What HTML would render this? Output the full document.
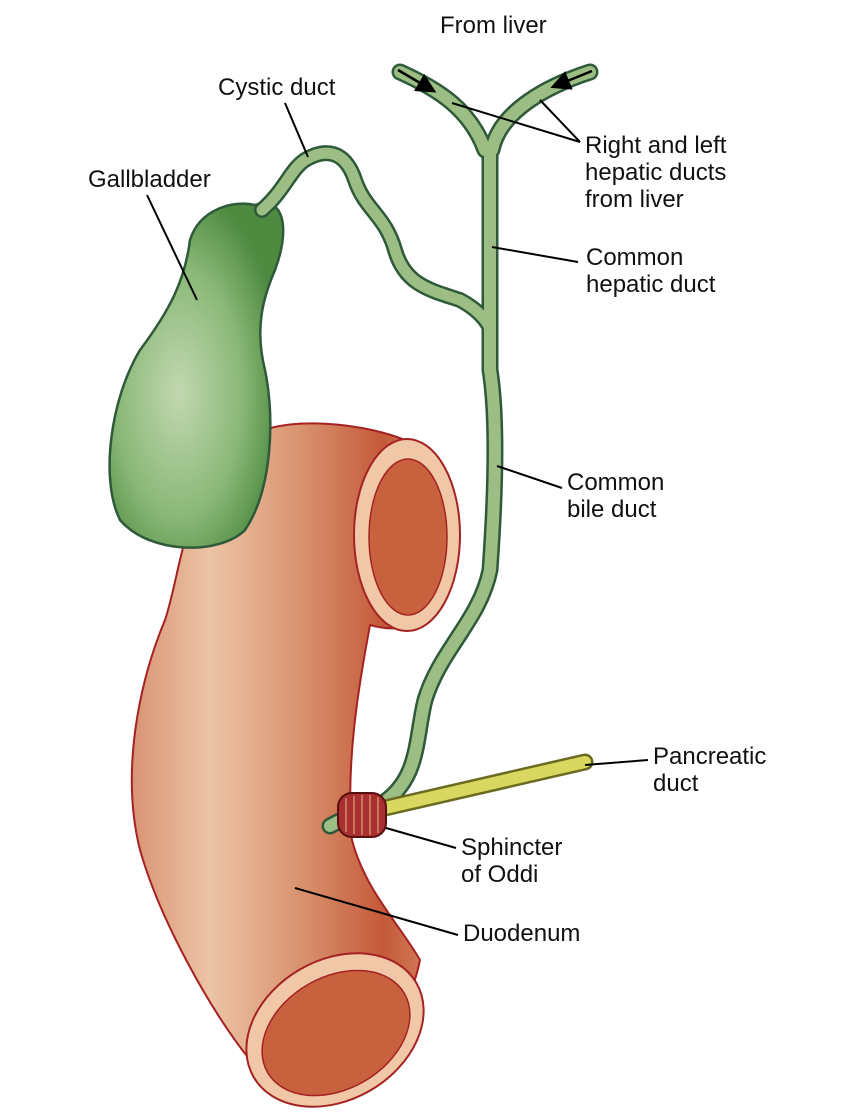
<!DOCTYPE html>
<html><head><meta charset="utf-8"><style>
html,body{margin:0;padding:0;background:#fff}
svg{display:block}
text{font-family:"Liberation Sans",Arial,sans-serif;font-size:24px;fill:#111}
</style></head><body>
<svg width="859" height="1113" viewBox="0 0 859 1113" xmlns="http://www.w3.org/2000/svg">
<defs>
<radialGradient id="gb" cx="0.4" cy="0.55" r="0.6">
<stop offset="0" stop-color="#c2d8b0"/><stop offset="0.6" stop-color="#8ab878"/><stop offset="1" stop-color="#4e8a40"/>
</radialGradient>
<linearGradient id="duo" x1="0" y1="0" x2="1" y2="0">
<stop offset="0" stop-color="#d89474"/><stop offset="0.25" stop-color="#ecc4a6"/><stop offset="0.55" stop-color="#d8906c"/><stop offset="0.8" stop-color="#c45a3a"/><stop offset="1" stop-color="#d88a66"/>
</linearGradient>
<marker id="ar" markerWidth="8" markerHeight="8" refX="6" refY="4" orient="auto"><path d="M0,0 L8,4 L0,8 Z" fill="#000"/></marker>
</defs>

<path d="M270,428 C310,418 370,425 410,442 C440,470 455,540 440,600 C425,630 395,632 370,625 C360,680 345,760 352,840 C365,890 400,925 420,960 C400,1060 300,1110 250,1060 C210,1010 160,920 140,850 C120,770 140,680 165,620 C185,560 180,480 270,428 Z" fill="url(#duo)" stroke="#a52222" stroke-width="2"/>
<ellipse cx="407" cy="535" rx="53" ry="96" fill="#f0c8a8" stroke="#a52222" stroke-width="2"/>
<ellipse cx="408" cy="537" rx="39" ry="78" fill="#c8623e" stroke="#a52222" stroke-width="1.5"/>
<ellipse cx="335" cy="1030" rx="94" ry="70" transform="rotate(-30 335 1030)" fill="#f0c8a8" stroke="#a52222" stroke-width="2"/>
<ellipse cx="336" cy="1033" rx="79" ry="56" transform="rotate(-30 336 1033)" fill="#c8623e" stroke="#a52222" stroke-width="1.5"/>

<path d="M255,205 C285,195 290,230 275,270 C262,300 255,330 265,370 C275,420 272,490 245,530 C220,555 150,555 120,520 C100,480 110,400 140,350 C170,310 185,280 190,240 C200,208 235,200 255,205 Z" fill="url(#gb)" stroke="#2e5a3a" stroke-width="2.5"/>

<g fill="none" stroke="#2e5a3a" stroke-linecap="round" stroke-linejoin="round">
<path d="M262,210 C285,190 290,170 305,160 C325,148 345,150 355,180 C365,210 385,215 395,250 C405,285 430,290 460,300 C475,308 485,318 490,328" stroke-width="16"/>
<path d="M400,72 C440,90 470,110 485,150 M590,72 C550,85 500,110 492,150 M490,150 L490,370 C498,420 495,500 490,570 C480,620 440,650 425,700 C415,740 420,780 380,805" stroke-width="17"/>
<path d="M330,826 C350,815 365,810 385,805" stroke-width="17"/>
</g>
<g fill="none" stroke="#9cbe84" stroke-linecap="round" stroke-linejoin="round">
<path d="M262,210 C285,190 290,170 305,160 C325,148 345,150 355,180 C365,210 385,215 395,250 C405,285 430,290 460,300 C475,308 485,318 490,328" stroke-width="11"/>
<path d="M400,72 C440,90 470,110 485,150 M590,72 C550,85 500,110 492,150 M490,150 L490,370 C498,420 495,500 490,570 C480,620 440,650 425,700 C415,740 420,780 380,805" stroke-width="12"/>
<path d="M330,826 C350,815 365,810 385,805" stroke-width="12"/>
</g>
<path d="M385,808 L585,762" stroke="#6a6a20" stroke-width="17" stroke-linecap="round"/>
<path d="M385,808 L585,762" stroke="#d8d860" stroke-width="12" stroke-linecap="round"/>
<rect x="338" y="793" width="48" height="44" rx="14" fill="#a83030" stroke="#5a1010" stroke-width="2"/>
<g stroke="#e0a080" stroke-width="1.2" fill="none">
<path d="M346,798 v34 M354,796 v38 M362,795 v40 M370,795 v40 M378,797 v36"/>
</g>

<line x1="398" y1="70" x2="432" y2="90" stroke="#000" stroke-width="2.5" marker-end="url(#ar)"/>
<line x1="592" y1="71" x2="555" y2="86" stroke="#000" stroke-width="2.5" marker-end="url(#ar)"/>

<g stroke="#000" stroke-width="2" fill="none">
<line x1="285" y1="103" x2="308" y2="157"/>
<line x1="147" y1="195" x2="197" y2="300"/>
<line x1="580" y1="142" x2="452" y2="103"/>
<line x1="580" y1="142" x2="540" y2="100"/>
<line x1="578" y1="262" x2="492" y2="247"/>
<line x1="562" y1="488" x2="497" y2="466"/>
<line x1="648" y1="760" x2="585" y2="765"/>
<line x1="456" y1="848" x2="386" y2="828"/>
<line x1="458" y1="935" x2="295" y2="888"/>
</g>

<text x="440" y="33">From liver</text>
<text x="218" y="95">Cystic duct</text>
<text x="88" y="187">Gallbladder</text>
<text x="585" y="153">Right and left</text>
<text x="585" y="180">hepatic ducts</text>
<text x="585" y="207">from liver</text>
<text x="586" y="265">Common</text>
<text x="586" y="292">hepatic duct</text>
<text x="567" y="490">Common</text>
<text x="567" y="517">bile duct</text>
<text x="653" y="764">Pancreatic</text>
<text x="653" y="791">duct</text>
<text x="461" y="855">Sphincter</text>
<text x="461" y="882">of Oddi</text>
<text x="463" y="941">Duodenum</text>
</svg>
</body></html>
